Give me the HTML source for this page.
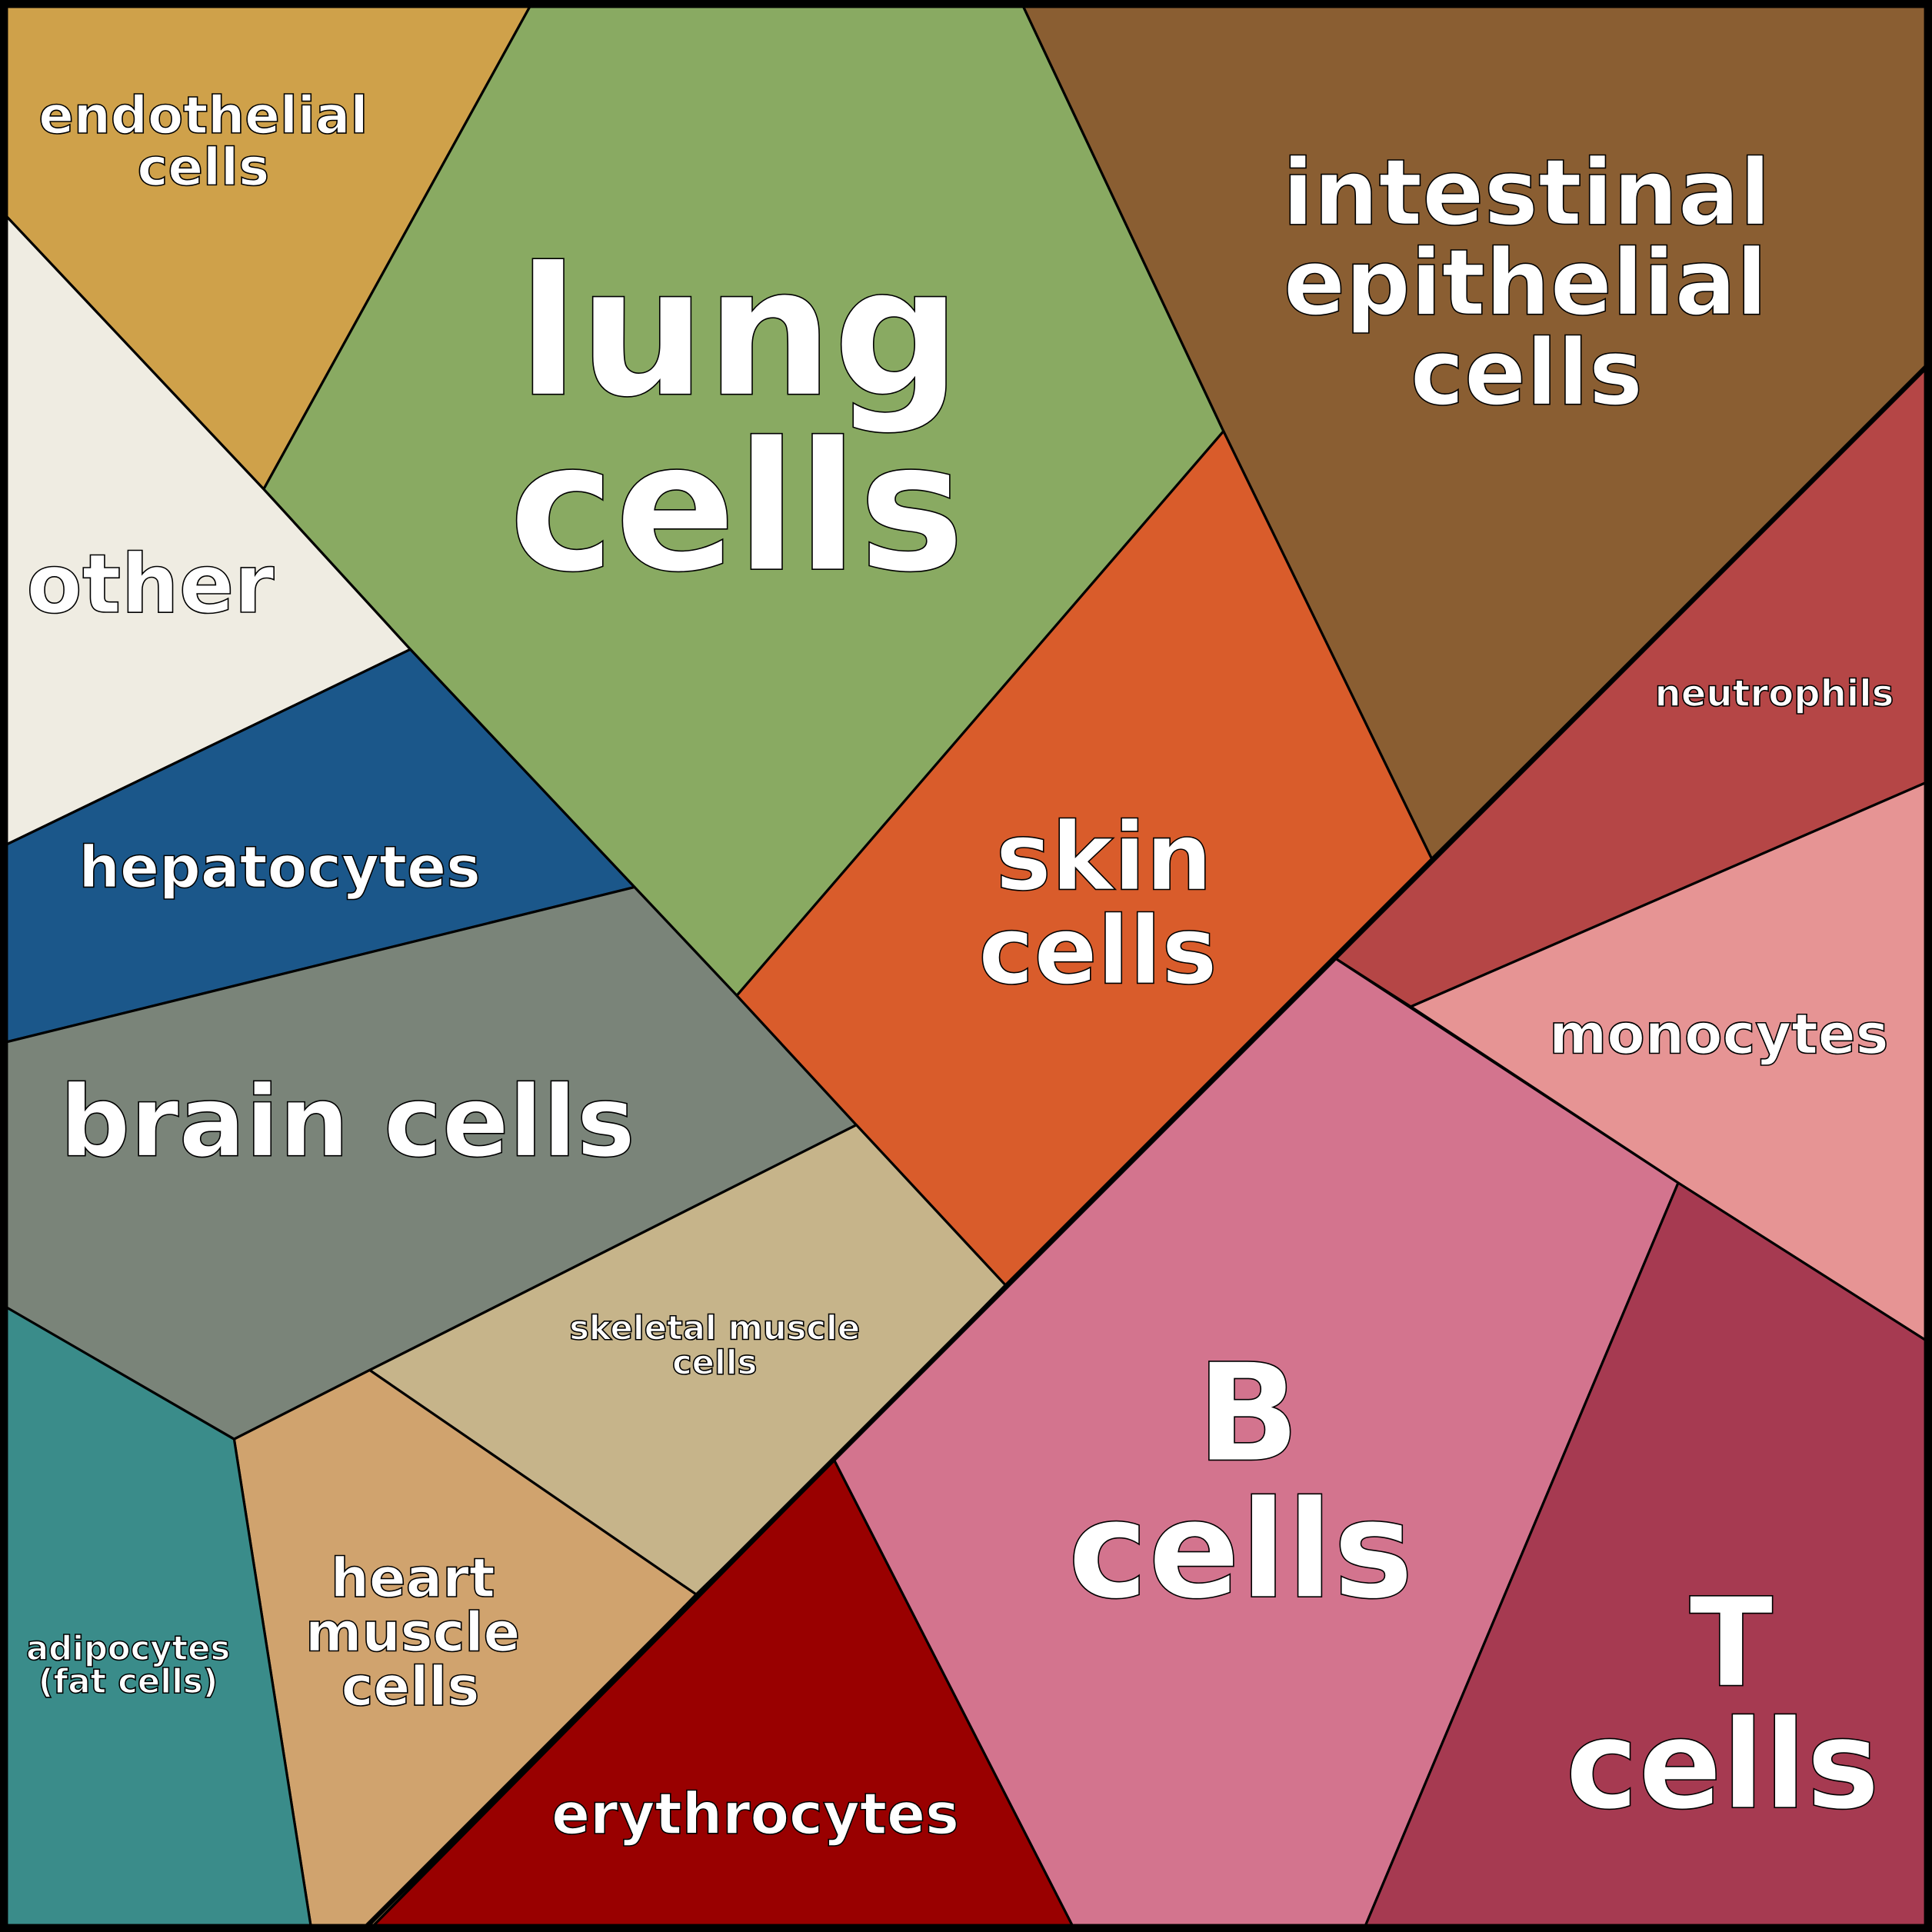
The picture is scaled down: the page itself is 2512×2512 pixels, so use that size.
<!DOCTYPE html>
<html><head><meta charset="utf-8"><style>
html,body{margin:0;padding:0;background:#000;}
svg{display:block;}
text{font-family:"DejaVu Sans","Liberation Sans",sans-serif;font-weight:bold;fill:#fff;stroke:#000;stroke-width:1;text-anchor:middle;}
</style></head><body>
<svg width="2512" height="2512" viewBox="0 0 1568 1568" xmlns="http://www.w3.org/2000/svg">
<g stroke="#000" stroke-width="2" stroke-linejoin="round">
<polygon fill="#cfa14a" points="0,0 433,0 214,397 0,170"/>
<polygon fill="#89aa62" points="433,0 828,0 993,350 598,808 515,720 333,527 214,397"/>
<polygon fill="#8a5e32" points="828,0 1568,0 1568,293 1162,697 993,350"/>
<polygon fill="#efece2" points="0,170 214,397 333,527 0,688"/>
<polygon fill="#1b578a" points="0,688 333,527 515,720 0,847"/>
<polygon fill="#7a8479" points="0,847 515,720 598,808 695,913 300,1112 190,1168 0,1058"/>
<polygon fill="#d95c2b" points="993,350 1162,697 816,1043 695,913 598,808"/>
<polygon fill="#b54646" points="1568,293 1568,633 1145,817 1084,778 1162,697"/>
<polygon fill="#e69494" points="1568,633 1568,1091 1362,960 1145,817"/>
<polygon fill="#d3748e" points="1084,778 1362,960 1106,1568 873,1568 677,1185"/>
<polygon fill="#a63a51" points="1362,960 1568,1091 1568,1568 1106,1568"/>
<polygon fill="#c6b48a" points="695,913 816,1043 677,1185 565,1294 300,1112"/>
<polygon fill="#d0a36e" points="300,1112 565,1294 298,1568 253,1568 190,1168"/>
<polygon fill="#3a8c8a" points="0,1058 190,1168 253,1568 0,1568"/>
<polygon fill="#990000" points="677,1185 873,1568 298,1568"/>
</g>
<line x1="1568" y1="293" x2="298" y2="1563" stroke="#000" stroke-width="4"/>
<rect x="3" y="3" width="1562" height="1562" fill="none" stroke="#000" stroke-width="7"/>
<text font-size="42"><tspan x="165" y="108">endothelial</tspan><tspan x="165" y="150">cells</tspan></text>
<text font-size="145"><tspan x="600" y="320">lung</tspan><tspan x="598" y="462">cells</tspan></text>
<text font-size="74"><tspan x="1239" y="182">intestinal</tspan><tspan x="1238" y="255">epithelial</tspan><tspan x="1239" y="328">cells</tspan></text>
<text font-size="66" x="122" y="497">other</text>
<text font-size="47" x="227" y="720">hepatocytes</text>
<text font-size="76"><tspan x="896" y="722">skin</tspan><tspan x="891" y="798">cells</tspan></text>
<text font-size="30" x="1440" y="573">neutrophils</text>
<text font-size="45" x="1395" y="855">monocytes</text>
<text font-size="80" x="282" y="938">brain cells</text>
<text font-size="27"><tspan x="580" y="1087">skeletal muscle</tspan><tspan x="580" y="1115">cells</tspan></text>
<text font-size="110"><tspan x="1013" y="1185">B</tspan></text>
<text font-size="110"><tspan x="1007" y="1296">cells</tspan></text>
<text font-size="100"><tspan x="1405" y="1368">T</tspan><tspan x="1398" y="1467">cells</tspan></text>
<text font-size="44"><tspan x="335" y="1296">heart</tspan><tspan x="335" y="1340">muscle</tspan><tspan x="333" y="1384">cells</tspan></text>
<text font-size="27"><tspan x="104" y="1347">adipocytes</tspan><tspan x="104" y="1374">(fat cells)</tspan></text>
<text font-size="46" x="613" y="1488">erythrocytes</text>
</svg>
</body></html>
